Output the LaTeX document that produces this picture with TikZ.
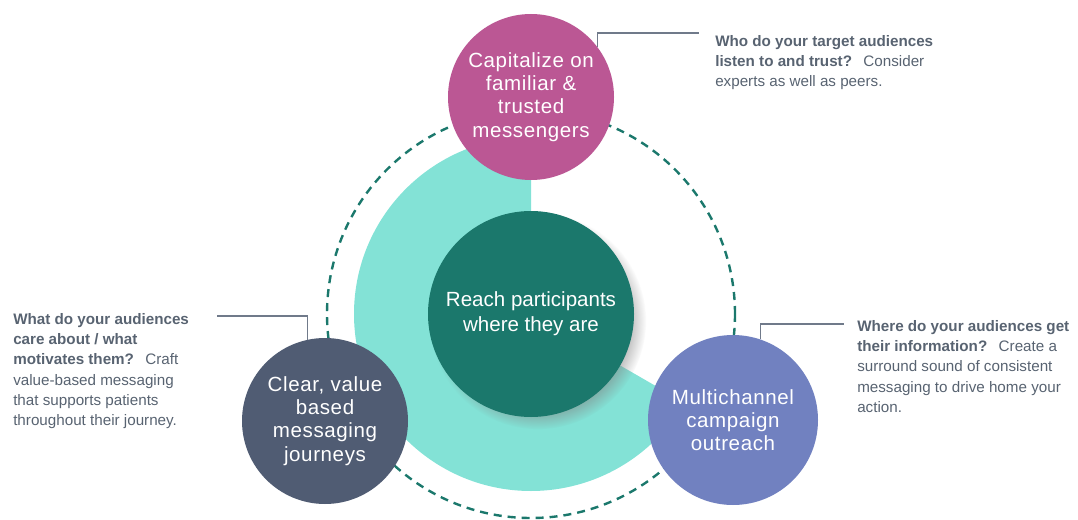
\documentclass[tikz,border=0pt]{standalone}
\usepackage{fontspec}
\setmainfont{Liberation Sans}
\newfontfamily\circfont[LetterSpace=3]{Liberation Sans}
\usetikzlibrary{positioning, shadows}

\definecolor{hubteal}{RGB}{27,120,108}
\definecolor{ringaqua}{RGB}{131,226,214}
\definecolor{msgpink}{RGB}{187,87,148}
\definecolor{msgslate}{RGB}{80,92,115}
\definecolor{msgblue}{RGB}{113,129,192}
\definecolor{notegray}{RGB}{88,99,113}
\definecolor{leadgray}{RGB}{112,122,138}

\tikzset{
  bubble/.style={circle, draw=none, text=white, align=center, inner sep=0pt,
    font=\circfont\fontsize{15.4}{17.5}\selectfont},
  note/.style={anchor=north west, align=left, inner sep=0pt, text=notegray,
    font=\fontsize{11.4}{15.2}\selectfont},
  leader/.style={draw=leadgray, line width=0.9pt},
  orbit/.style={draw=hubteal, line width=1.8pt, dash pattern=on 6pt off 4.5pt},
}

\begin{document}
\begin{tikzpicture}[x=0.75pt, y=0.75pt]
        \useasboundingbox (0,0) rectangle (1078,519);

        % Define the ring
        \coordinate (core) at (531,205);
        \fill[ringaqua] (core) -- ++(90:177) arc[start angle=90, end angle=330, radius=177] -- cycle;
        \draw[orbit] (core) circle[radius=204];

        % Define the circles
        \node[bubble, fill=msgpink, minimum size=124.5pt] (capital) at (531,422)
            {Capitalize on\\familiar \&\\trusted\\messengers};
        \node[bubble, fill=msgslate, minimum size=124.5pt] (journeys) at (325,98)
            {Clear, value\\based\\messaging\\journeys};
        \node[bubble, fill=msgblue, minimum size=127.5pt] (outreach) at (733,99)
            {Multichannel\\campaign\\outreach};
        \node[bubble, fill=hubteal, minimum size=154.5pt,
              font=\fontsize{15.4}{18.8}\selectfont,
              circular drop shadow={shadow xshift=5pt, shadow yshift=-5pt, shadow scale=1.05, opacity=0.5}]
            (hub) at (core) {Reach participants\\where they are};

        % Define the notes
        \node[note] (who) at (715,484)
            {\textbf{Who do your target audiences}\\
             \textbf{listen to and trust?}\hspace{0.75em}Consider\\
             experts as well as peers.};
        \node[note] (what) at (13,206)
            {\textbf{What do your audiences}\\
             \textbf{care about / what}\\
             \textbf{motivates them?}\hspace{0.75em}Craft\\
             value-based messaging\\
             that supports patients\\
             throughout their journey.};
        \node[note] (where) at (857,199)
            {\textbf{Where do your audiences get}\\
             \textbf{their information?}\hspace{0.75em}Create a\\
             surround sound of consistent\\
             messaging to drive home your\\
             action.};

        % Draw leaders
        \coordinate (who-tip) at (699,486);
        \coordinate (what-tip) at (217,203);
        \coordinate (where-tip) at (844,195);
        \draw[leader] (capital.37) |- (who-tip);
        \draw[leader] (journeys.102) |- (what-tip);
        \draw[leader] (outreach.71) |- (where-tip);
    \end{tikzpicture}
\end{document}
